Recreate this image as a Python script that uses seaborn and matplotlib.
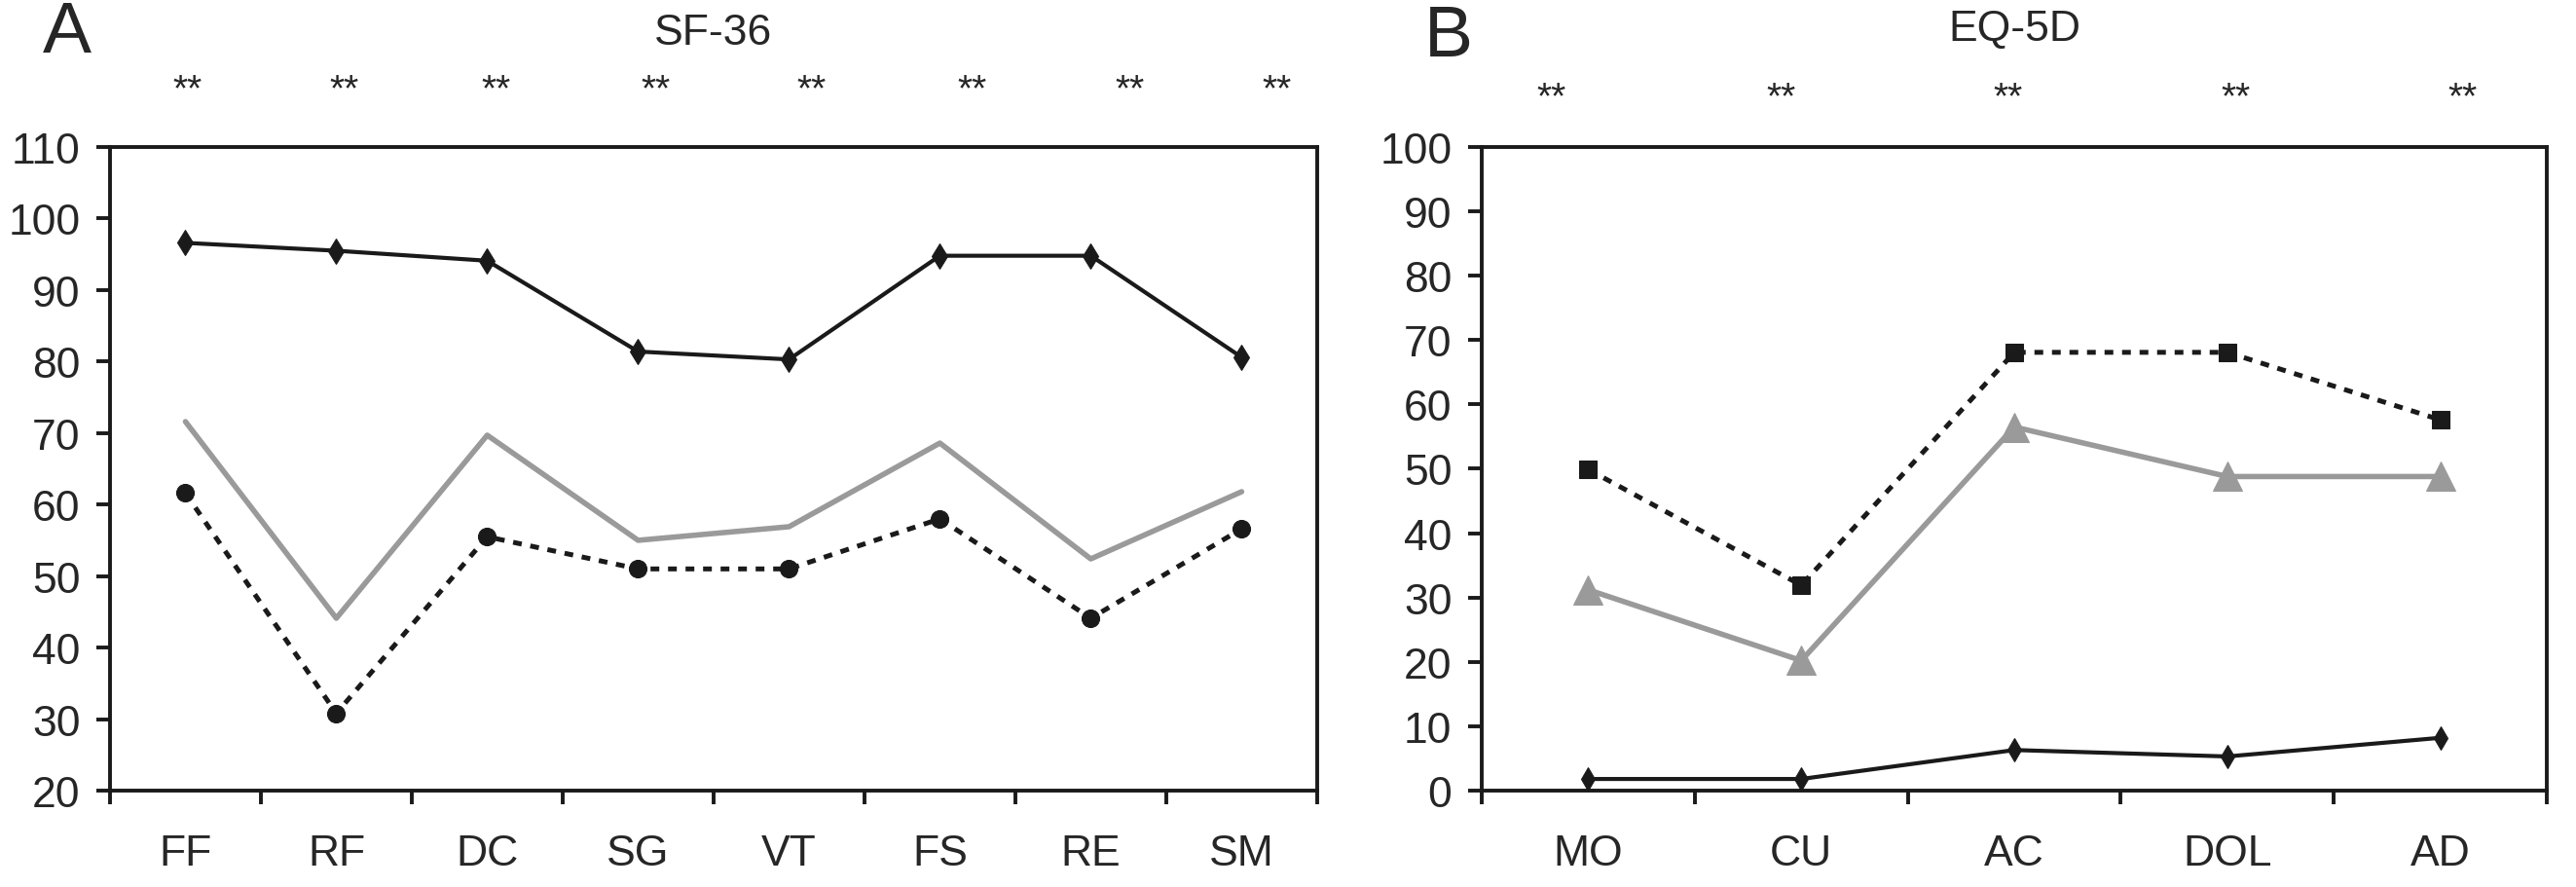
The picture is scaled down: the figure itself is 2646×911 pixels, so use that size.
import numpy as np
import pandas as pd
import seaborn as sns
import matplotlib.pyplot as plt
from matplotlib.ticker import FixedLocator

# --- data ---
sf_cats = ['FF', 'RF', 'DC', 'SG', 'VT', 'FS', 'RE', 'SM']
sf_black = [96.6, 95.5, 94.1, 81.4, 80.3, 94.8, 94.8, 80.6]
sf_gray = [71.6, 44.1, 69.7, 55.0, 56.9, 68.6, 52.4, 61.8]
sf_dashed = [61.6, 30.8, 55.5, 51.0, 51.0, 58.0, 44.1, 56.6]

eq_cats = ['MO', 'CU', 'AC', 'DOL', 'AD']
eq_black = [1.8, 1.8, 6.3, 5.3, 8.2]
eq_gray = [31.2, 20.2, 56.5, 48.8, 48.8]
eq_dashed = [49.9, 31.9, 68.1, 68.1, 57.6]

sf_stars_x = [0.064, 0.194, 0.320, 0.452, 0.581, 0.714, 0.845, 0.967]
eq_stars_x = [0.065, 0.281, 0.494, 0.708, 0.921]

sns.set_style('white')
plt.rcParams['font.family'] = ['Liberation Sans', 'DejaVu Sans']

BLACK = '#1a1a1a'
GRAY = '#9a9a9a'
LW_SPINE = 2.8
FS = 32

fig = plt.figure(figsize=(26.46, 9.12), dpi=100)
ax1 = fig.add_axes([0.0427, 0.1086, 0.4686, 0.7247])
ax2 = fig.add_axes([0.5752, 0.1086, 0.4135, 0.7247])


def style_axis(ax, cats, ylim, yticks):
    n = len(cats)
    ax.set_xlim(-0.5, n - 0.5)
    ax.set_ylim(*ylim)
    ax.set_yticks(yticks)
    ax.set_xticks(np.arange(n))
    ax.set_xticklabels(cats)
    ax.xaxis.set_minor_locator(FixedLocator(np.arange(n + 1) - 0.5))
    ax.tick_params(axis='x', which='major', length=0, pad=32, labelsize=FS)
    ax.tick_params(axis='x', which='minor', length=10, width=LW_SPINE,
                   direction='out', color=BLACK, bottom=True)
    ax.tick_params(axis='y', which='major', length=10, width=LW_SPINE,
                   direction='out', color=BLACK, left=True, pad=12, labelsize=FS)
    for s in ax.spines.values():
        s.set_visible(True)
        s.set_linewidth(LW_SPINE)
        s.set_color(BLACK)
    ax.set_xlabel('')
    ax.set_ylabel('')


DASH = (0, (1.8, 1.8))

# --- panel A : SF-36 ---
x1 = np.arange(len(sf_cats))
sns.lineplot(x=x1, y=sf_gray, ax=ax1, color=GRAY, linewidth=4.0)
sns.lineplot(x=x1, y=sf_dashed, ax=ax1, color=BLACK, linewidth=3.6,
             linestyle=DASH, marker='o', markersize=13,
             markeredgecolor=BLACK)
sns.lineplot(x=x1, y=sf_black, ax=ax1, color=BLACK, linewidth=3.0,
             marker='d', markersize=13, markeredgecolor=BLACK)
style_axis(ax1, sf_cats, (20, 110), np.arange(20, 111, 10))

# --- panel B : EQ-5D ---
x2 = np.arange(len(eq_cats))
sns.lineplot(x=x2, y=eq_dashed, ax=ax2, color=BLACK, linewidth=3.6,
             linestyle=DASH, marker='s', markersize=13,
             markeredgecolor=BLACK)
sns.lineplot(x=x2, y=eq_gray, ax=ax2, color=GRAY, linewidth=4.0,
             marker='^', markersize=21, markeredgecolor=GRAY)
sns.lineplot(x=x2, y=eq_black, ax=ax2, color=BLACK, linewidth=3.0,
             marker='d', markersize=12, markeredgecolor=BLACK)
style_axis(ax2, eq_cats, (0, 100), np.arange(0, 101, 10))

# titles, panel letters and significance stars
fig.text((0.0427 + 0.5113) / 2, 1 - 34 / 912, 'SF-36', ha='center', va='center', fontsize=FS)
fig.text((0.5752 + 0.9887) / 2, 1 - 30 / 912, 'EQ-5D', ha='center', va='center', fontsize=FS)
fig.text(44 / 2646, 1 - 34 / 912, 'A', ha='left', va='center', fontsize=54)
fig.text(1463 / 2646, 1 - 38 / 912, 'B', ha='left', va='center', fontsize=54)

for xs in sf_stars_x:
    ax1.text(xs, 1 + (152 - 93) / 661, '**', transform=ax1.transAxes,
             ha='center', va='center', fontsize=28)
for xs in eq_stars_x:
    ax2.text(xs, 1 + (152 - 101) / 661, '**', transform=ax2.transAxes,
             ha='center', va='center', fontsize=28)

fig.savefig('out.png', dpi=100)
